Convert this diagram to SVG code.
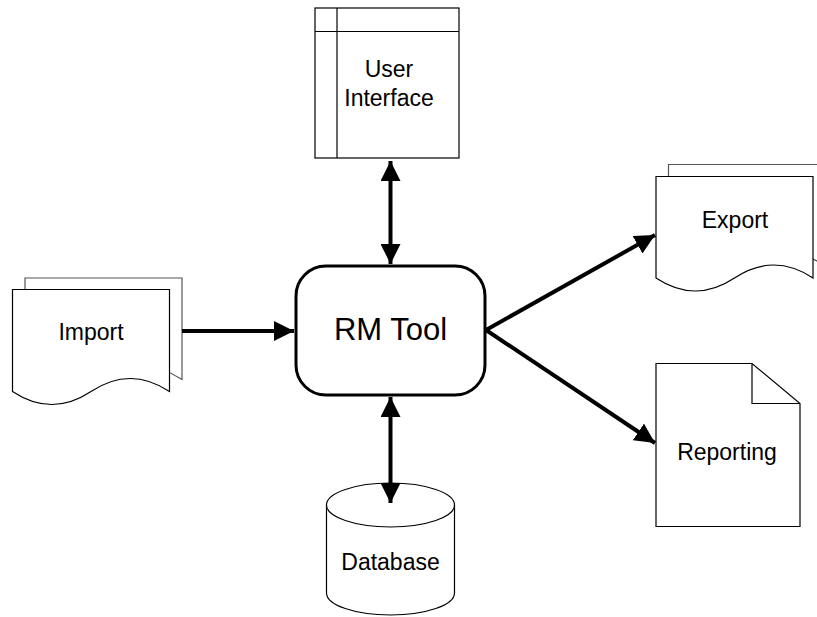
<svg xmlns="http://www.w3.org/2000/svg" width="817" height="617" viewBox="0 0 817 617">
  <style>
    .lbl { font-family: "Liberation Sans", Arial, sans-serif; font-size: 23px; fill: #000; text-anchor: middle; }
    .big { font-size: 31px; }
    .shape { fill: #fff; stroke: #000; stroke-width: 1.2; }
    .back { fill: #fff; stroke: #555; stroke-width: 1.2; }
    .thin { fill: none; stroke: #000; stroke-width: 1.2; }
    .conn { fill: none; stroke: #000; stroke-width: 4; }
  </style>
  <defs>
    <marker id="arrow" viewBox="0 0 20 20" refX="20" refY="10" markerWidth="5" markerHeight="5" markerUnits="strokeWidth" orient="auto-start-reverse">
      <path d="M0,0 L20,10 L0,20 Z" fill="#000"/>
    </marker>
  </defs>

  <rect width="817" height="617" fill="#fff"/>

  <!-- user interface window -->
  <g id="user-interface">
    <rect class="shape" x="315" y="8" width="144" height="150"/>
    <line class="thin" x1="315" y1="31.5" x2="459" y2="31.5"/>
    <line class="thin" x1="337" y1="8" x2="337" y2="158"/>
    <text class="lbl" x="389" y="77">User</text>
    <text class="lbl" x="389" y="106">Interface</text>
  </g>

  <!-- import: stacked documents -->
  <g id="import">
    <path class="back" d="M25,278 L182,278 L182,379.5 Q142.75,353.5 103.5,379.5 T25,379.5 Z"/>
    <path class="shape" d="M12.5,289.5 L169.5,289.5 L169.5,391.5 Q130.25,365.5 91,391.5 T12.5,391.5 Z"/>
    <text class="lbl" x="91" y="340">Import</text>
  </g>

  <!-- central process -->
  <g id="rm-tool">
    <rect x="296" y="266" width="189" height="129" rx="30" ry="30" fill="#fff" stroke="#000" stroke-width="3"/>
    <text class="lbl big" x="390.5" y="340">RM Tool</text>
  </g>

  <!-- export: stacked documents -->
  <g id="export">
    <path class="back" d="M668.5,164.5 L825.5,164.5 L825.5,266 Q786.25,240 747,266 T668.5,266 Z"/>
    <path class="shape" d="M656,176.5 L813,176.5 L813,278 Q773.75,252 734.5,278 T656,278 Z"/>
    <text class="lbl" x="735" y="228">Export</text>
  </g>

  <!-- reporting: document with folded corner -->
  <g id="reporting">
    <path class="shape" d="M656,363.5 L752,363.5 L800,403.5 L800,526.5 L656,526.5 Z"/>
    <path class="thin" d="M752,363.5 L752,403.5 L800,403.5"/>
    <text class="lbl" x="727" y="460">Reporting</text>
  </g>

  <!-- database cylinder -->
  <g id="database">
    <path class="shape" d="M326.5,505 L326.5,593 A64,22 0 0 0 454.5,593 L454.5,505 Z"/>
    <ellipse class="shape" cx="390.5" cy="505" rx="64" ry="22"/>
    <text class="lbl" x="390.5" y="570">Database</text>
  </g>

  <!-- connectors, drawn over the shapes -->
  <g id="connectors">
    <line class="conn" x1="182" y1="331" x2="294" y2="331" marker-end="url(#arrow)"/>
    <line class="conn" x1="390.5" y1="161" x2="390.5" y2="264" marker-start="url(#arrow)" marker-end="url(#arrow)"/>
    <line class="conn" x1="390.5" y1="397" x2="390.5" y2="503" marker-start="url(#arrow)" marker-end="url(#arrow)"/>
    <line class="conn" x1="486" y1="330" x2="655" y2="235" marker-end="url(#arrow)"/>
    <line class="conn" x1="486" y1="330" x2="655" y2="443" marker-end="url(#arrow)"/>
  </g>
</svg>
